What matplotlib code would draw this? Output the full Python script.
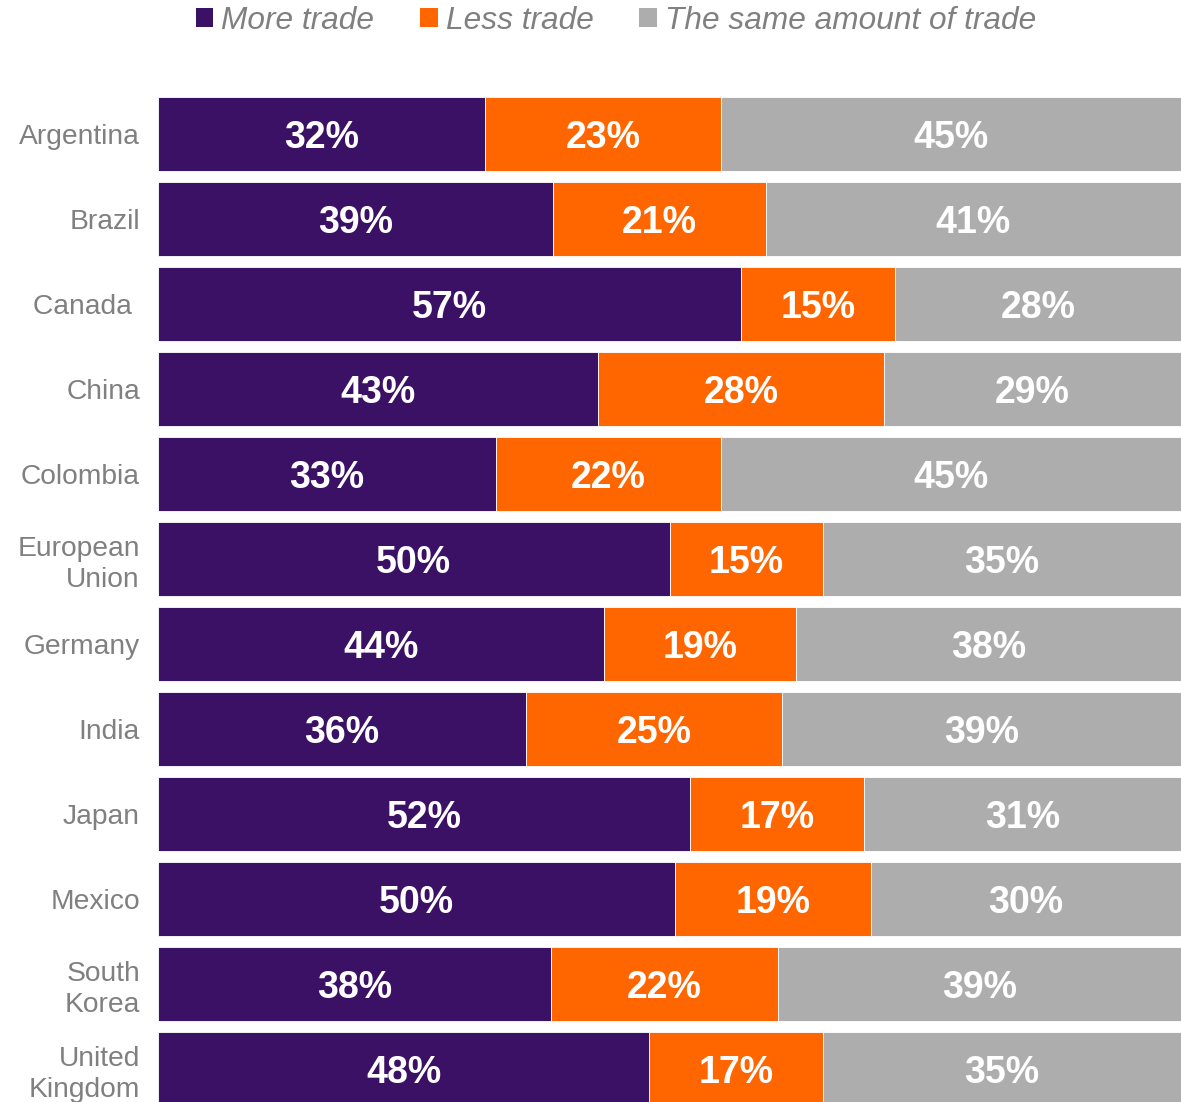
import matplotlib
matplotlib.use("Agg")
import matplotlib.pyplot as plt
from matplotlib.patches import Patch
import numpy as np

plt.rcParams['font.family'] = ['Liberation Sans', 'DejaVu Sans']

countries = ["Argentina", "Brazil", "Canada ", "China", "Colombia", "European\nUnion",
             "Germany", "India", "Japan", "Mexico", "South\nKorea", "United\nKingdom"]
more_trade = [32, 39, 57, 43, 33, 50, 44, 36, 52, 50, 38, 48]
less_trade = [23, 21, 15, 28, 22, 15, 19, 25, 17, 19, 22, 17]
same_trade = [45, 41, 28, 29, 45, 35, 38, 39, 31, 30, 39, 35]
series_names = ["More trade", "Less trade", "The same amount of trade"]
colors = ["#3B1166", "#FF6600", "#ADADAD"]

W, H = 1181, 1102
fig = plt.figure(figsize=(W / 100, H / 100), dpi=100)

# bars: first row centered at y=134 px, pitch 85 px
left = 158 / W
top = 1 - 97 / H
ax = fig.add_axes([left, 0, 1 - left, top])

series = np.array([more_trade, less_trade, same_trade], dtype=float)
totals = series.sum(axis=0)
shares = series / totals
y = np.arange(len(countries))
bar_h = 74 / 85

start = np.zeros(len(countries))
for vals, pct, col in zip(shares, series, colors):
    ax.barh(y, vals, left=start, height=bar_h, color=col, edgecolor="white", linewidth=0.6)
    for yi, s, v, p in zip(y, start, vals, pct):
        ax.text(s + v / 2, yi + 0.05, f"{int(p)}%", ha="center", va="center",
                color="white", fontsize=27, fontweight="bold")
    start = start + vals

ax.set_xlim(0, 1)
ax.set_ylim((H - 134) / 85, -bar_h / 2)
ax.set_yticks(y)
ax.set_yticklabels(countries, fontsize=20.3, color="#808080", linespacing=1.25)
ax.tick_params(axis="y", length=0, pad=13)
ax.set_xticks([])
for sp in ax.spines.values():
    sp.set_visible(False)

handles = [Patch(facecolor=c, edgecolor="none") for c in colors]
fig.legend(handles, series_names, loc="center", bbox_to_anchor=(616 / W, 1 - 21 / H),
           ncol=3, frameon=False, prop={"size": 22.8, "style": "italic"},
           labelcolor="#808080", handlelength=0.55, handleheight=0.55,
           handletextpad=0.25, columnspacing=1.45, borderaxespad=0, borderpad=0)

fig.savefig("out.png", dpi=100)
